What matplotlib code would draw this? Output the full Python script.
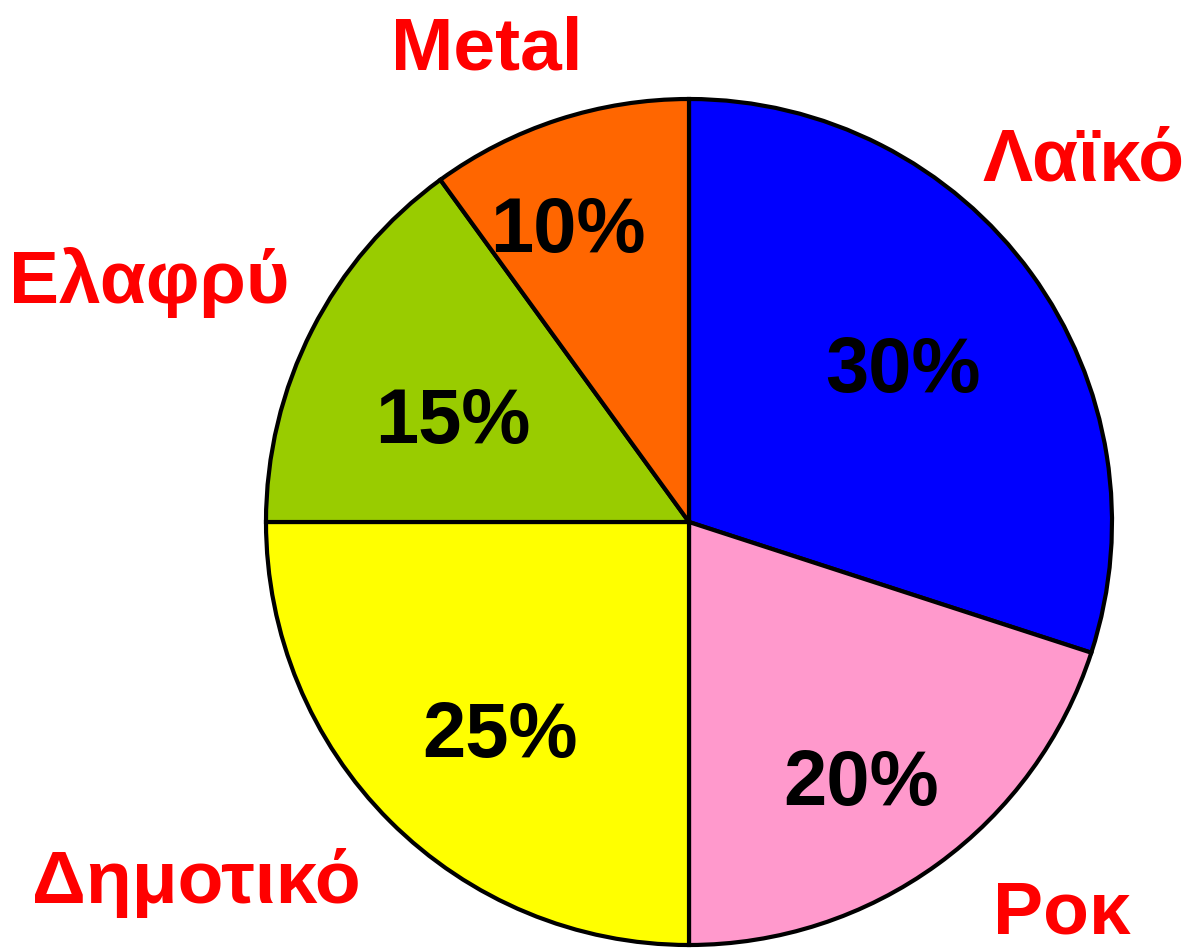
import matplotlib
matplotlib.use("Agg")
import matplotlib.pyplot as plt

# data, clockwise from 12 o'clock
genres = ["Λαϊκό", "Ροκ", "Δημοτικό", "Ελαφρύ", "Metal"]
shares = [30, 20, 25, 15, 10]
colors = ["#0000FF", "#FF99CC", "#FFFF00", "#99CC00", "#FF6600"]

W, H = 1193, 949
CENTER = (689, H - 522)
RADIUS = 423

# text anchors in pixels (x, baseline y from top)
name_pos = [(1083, 180), (1062, 933), (196, 903), (149, 303), (487, 69)]
pct_pos = [(903, 392), (861, 805), (500, 757), (453, 443), (568, 252)]

plt.rcParams['font.family'] = ['Liberation Sans', 'DejaVu Sans']

fig = plt.figure(figsize=(W / 100, H / 100), dpi=100)
ax = fig.add_axes([0, 0, 1, 1])

ax.pie(shares, colors=colors, startangle=90, counterclock=False,
       center=CENTER, radius=RADIUS,
       wedgeprops=dict(edgecolor="black", linewidth=3))

for name, (x, y) in zip(genres, name_pos):
    ax.text(x, H - y, name, ha="center", va="baseline",
            fontsize=54, fontweight="bold", color="#FF0000")

for v, (x, y) in zip(shares, pct_pos):
    ax.text(x, H - y, "%d%%" % v, ha="center", va="baseline",
            fontsize=56, fontweight="bold", color="black")

ax.set_xlim(0, W)
ax.set_ylim(0, H)
ax.set_aspect("equal")
ax.axis("off")

fig.savefig("out.png", dpi=100, facecolor="white")
